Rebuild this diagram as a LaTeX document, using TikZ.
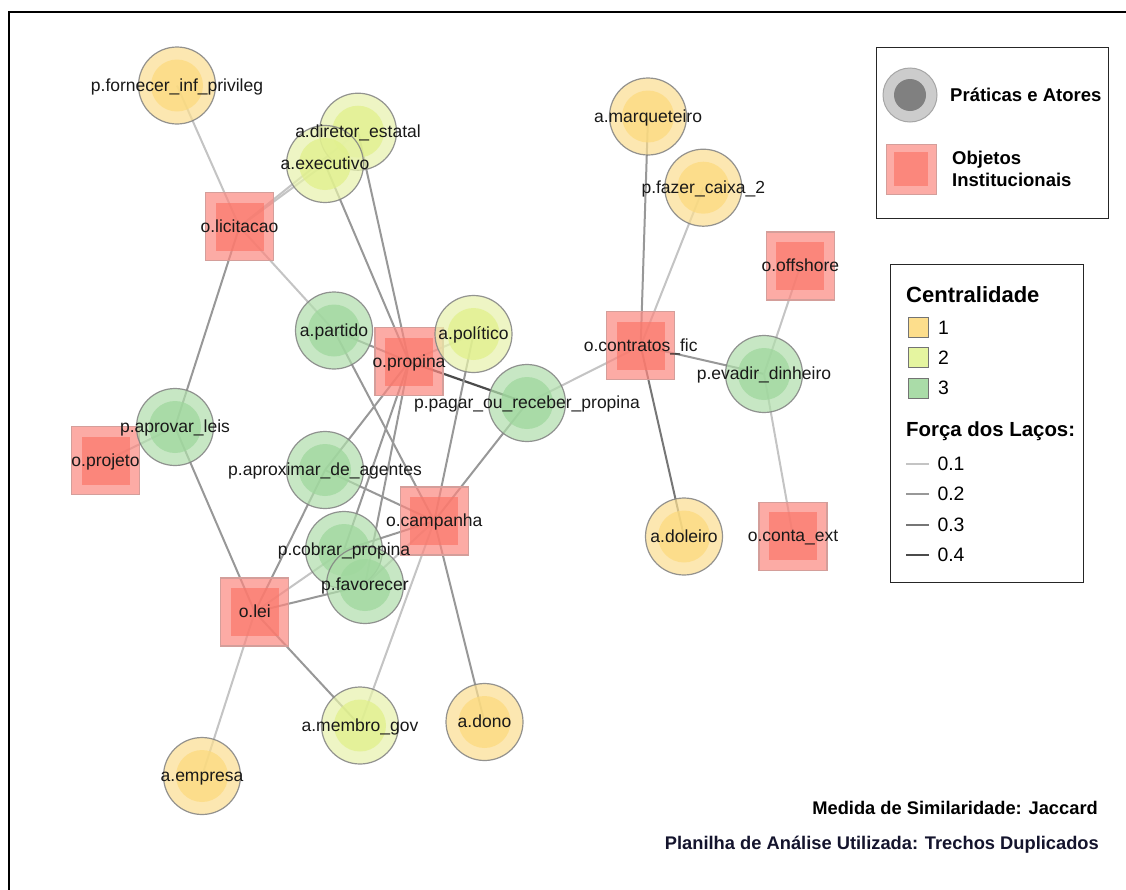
\documentclass[tikz,border=0pt]{standalone}
\usepackage{fontspec}
\setmainfont{Liberation Sans}
\pgfdeclarelayer{edges}
\pgfdeclarelayer{labels}
\pgfsetlayers{edges,main,labels}

% node palettes: ring (R) and core (C), drawn at 70% opacity
\definecolor{YR}{RGB}{251,222,145}\definecolor{YC}{RGB}{252,218,124}
\definecolor{LR}{RGB}{231,242,171}\definecolor{LC}{RGB}{224,240,136}
\definecolor{GR}{RGB}{176,222,171}\definecolor{GC}{RGB}{157,215,156}
\definecolor{SR}{RGB}{251,136,128}\definecolor{SC}{RGB}{251,119,106}
% opaque legend colours
\definecolor{Y1}{RGB}{253,222,140}
\definecolor{L2}{RGB}{229,245,160}
\definecolor{G3}{RGB}{170,220,168}
\definecolor{sqline}{RGB}{212,158,154}
\definecolor{ringline}{RGB}{130,130,130}
\definecolor{e1}{RGB}{196,196,196}
\definecolor{e2}{RGB}{152,152,152}
\definecolor{e3}{RGB}{118,118,118}
\definecolor{e4}{RGB}{75,75,75}

\newcommand\actor[5]{%
  \node[ring, fill=#4R] (#1) at (#2,#3) {};
  \node[core, fill=#4C] (#1-c) at (#1) {};
  \begin{pgfonlayer}{labels}\node[lbl] (#1-t) at (#1) {#5};\end{pgfonlayer}}
\newcommand\objeto[4]{%
  \node[sqr] (#1) at (#2,#3) {};
  \node[sqc] (#1-c) at (#1) {};
  \begin{pgfonlayer}{labels}\node[lbl] (#1-t) at (#1) {#4};\end{pgfonlayer}}
\newcommand\tie[3]{\draw[#1] (#2.center) -- (#3.center);}

\begin{document}
\begin{tikzpicture}[x=1pt,y=-1pt,
  ring/.style={circle, minimum size=77pt, inner sep=0pt, draw=ringline, line width=1.2pt, fill opacity=0.7, draw opacity=0.85},
  core/.style={circle, minimum size=52pt, inner sep=0pt, fill opacity=0.7},
  sqr/.style={rectangle, minimum size=68pt, inner sep=0pt, draw=sqline, line width=1.2pt, fill=SR, fill opacity=0.7},
  sqc/.style={rectangle, minimum size=48pt, inner sep=0pt, fill=SC, fill opacity=0.7},
  lbl/.style={inner sep=0pt, yshift=-3pt, text height=0.75em, text depth=0.22em, text=black!90, font=\fontsize{17.5}{20}\selectfont},
  w1/.style={draw=e1, line width=2pt},
  w2/.style={draw=e2, line width=2pt},
  w3/.style={draw=e3, line width=2pt},
  w4/.style={draw=e4, line width=2.2pt},
  legtxt/.style={anchor=west, inner sep=0pt, font=\fontsize{19.4}{22}\selectfont},
  legbold/.style={anchor=west, inner sep=0pt, font=\bfseries\fontsize{18.5}{22}\selectfont, align=left},
  legbox/.style={draw=black!85, line width=1.4pt},
  swatch/.style={rectangle, minimum size=20.5pt, inner sep=0pt, draw=black!55, line width=1pt}
]
\useasboundingbox (0,0) rectangle (1126,889);
\begin{pgfonlayer}{edges}
  \fill[white] (0,0) rectangle (1126,889);
\end{pgfonlayer}

% outer frame
\draw[line width=1.6pt] (1140,12) -- (9,12) -- (9,900);

% objects
\objeto{licitacao}{239.5}{226.7}{o.licitacao}
\objeto{propina}{409}{361.7}{o.propina}
\objeto{campanha}{434.3}{521}{o.campanha}
\objeto{contratos}{640.7}{345.8}{o.contratos\_fic}
\objeto{offshore}{800.3}{266}{o.offshore}
\objeto{contaext}{793}{536.3}{o.conta\_ext}
\objeto{projeto}{105.5}{460.8}{o.projeto}
\objeto{lei}{254.8}{612}{o.lei}

% practices and actors
\actor{fornecer}{177}{85.5}{Y}{p.fornecer\_inf\_privileg}
\actor{diretor}{358}{131.7}{L}{a.diretor\_estatal}
\actor{executivo}{325}{164}{L}{a.executivo}
\actor{partido}{334}{330.5}{G}{a.partido}
\actor{politico}{473.5}{334}{L}{a.político}
\actor{pagar}{527}{403}{G}{p.pagar\_ou\_receber\_propina}
\actor{aproximar}{325}{470}{G}{p.aproximar\_de\_agentes}
\actor{cobrar}{344}{550}{G}{p.cobrar\_propina}
\actor{favorecer}{365}{585}{G}{p.favorecer}
\actor{aprovar}{175}{427}{G}{p.aprovar\_leis}
\actor{membro}{360}{725.5}{L}{a.membro\_gov}
\actor{dono}{484.5}{722}{Y}{a.dono}
\actor{empresa}{202}{776}{Y}{a.empresa}
\actor{marqueteiro}{648}{116.5}{Y}{a.marqueteiro}
\actor{caixa}{703.3}{187.7}{Y}{p.fazer\_caixa\_2}
\actor{evadir}{764}{374}{G}{p.evadir\_dinheiro}
\actor{doleiro}{684}{536.5}{Y}{a.doleiro}

% ties
\begin{pgfonlayer}{edges}
\tie{w1}{fornecer}{licitacao}
\tie{w1}{licitacao}{executivo}
\tie{w1}{licitacao}{diretor}
\tie{w1}{licitacao}{partido}
\tie{w2}{licitacao}{aprovar}
\tie{w2}{executivo}{propina}
\tie{w2}{diretor}{propina}
\tie{w2}{partido}{propina}
\tie{w2}{partido}{campanha}
\tie{w1}{propina}{politico}
\tie{w4}{propina}{pagar}
\tie{w2}{politico}{campanha}
\tie{w2}{pagar}{campanha}
\tie{w1}{pagar}{contratos}
\tie{w2}{propina}{aproximar}
\tie{w2}{aproximar}{lei}
\tie{w2}{aproximar}{campanha}
\tie{w2}{propina}{cobrar}
\tie{w2}{propina}{favorecer}
\tie{w2}{cobrar}{campanha}
\tie{w1}{favorecer}{campanha}
\tie{w1}{lei}{cobrar}
\tie{w2}{lei}{favorecer}
\tie{w2}{lei}{aprovar}
\tie{w1}{aprovar}{projeto}
\tie{w2}{lei}{membro}
\tie{w1}{lei}{empresa}
\tie{w1}{campanha}{membro}
\tie{w2}{campanha}{dono}
\tie{w2}{contratos}{marqueteiro}
\tie{w1}{contratos}{caixa}
\tie{w2}{contratos}{evadir}
\tie{w3}{contratos}{doleiro}
\tie{w1}{evadir}{offshore}
\tie{w1}{evadir}{contaext}
\end{pgfonlayer}

% legend: node types
\node[legbox, minimum width=232pt, minimum height=171pt, anchor=north west] (legA) at (876,47) {};
\node[circle, minimum size=54pt, inner sep=0pt, fill=black!20, draw=black!35, line width=1pt] (legring) at (910,95) {};
\node[circle, minimum size=32pt, inner sep=0pt, fill=black!50] (legcore) at (legring) {};
\node[legbold] (legringt) at (950,95) {Práticas e Atores};
\node[rectangle, minimum size=50pt, inner sep=0pt, fill={rgb,255:red,252;green,172;blue,166}, draw=sqline, line width=1pt] (legsq) at (911,169) {};
\node[rectangle, minimum size=34pt, inner sep=0pt, fill={rgb,255:red,251;green,135;blue,124}] (legsqc) at (legsq) {};
\node[legbold, font=\bfseries\fontsize{18.5}{22}\selectfont] (legsqt) at (952,169) {Objetos\\Institucionais};

% legend: centrality and tie strength
\node[legbox, minimum width=193pt, minimum height=318pt, anchor=north west] (legB) at (890,264) {};
\node[legbold, font=\bfseries\fontsize{22}{24}\selectfont] (centt) at (906,295) {Centralidade};
\node[swatch, fill=Y1] (c1) at (918.7,327.7) {};
\node[swatch, fill=L2] (c2) at (918.7,357.7) {};
\node[swatch, fill=G3] (c3) at (918.7,388.3) {};
\node[legtxt] (c1t) at (938,327.7) {1};
\node[legtxt] (c2t) at (938,357.7) {2};
\node[legtxt] (c3t) at (938,388.3) {3};
\node[legbold, font=\bfseries\fontsize{20.4}{24}\selectfont] (forcat) at (906,431.7) {Força dos Laços:};
\coordinate (l1a) at (906,464); \coordinate (l1b) at (929.3,464);
\coordinate (l2a) at (906,494.3); \coordinate (l2b) at (929.3,494.3);
\coordinate (l3a) at (906,525); \coordinate (l3b) at (929.3,525);
\coordinate (l4a) at (906,555); \coordinate (l4b) at (929.3,555);
\draw[w1] (l1a) -- (l1b);
\draw[w2] (l2a) -- (l2b);
\draw[w3] (l3a) -- (l3b);
\draw[w4] (l4a) -- (l4b);
\node[legtxt] (l1t) at (937.3,464) {0.1};
\node[legtxt] (l2t) at (937.3,494.3) {0.2};
\node[legtxt] (l3t) at (937.3,525) {0.3};
\node[legtxt] (l4t) at (937.3,555) {0.4};

% footnotes
\node[anchor=east, inner sep=0pt, font=\bfseries\fontsize{18.3}{22}\selectfont] (medida) at (1098,808) {Medida de Similaridade: Jaccard};
\node[anchor=east, inner sep=0pt, font=\bfseries\fontsize{18.3}{22}\selectfont, text={rgb,255:red,20;green,20;blue,45}] (planilha) at (1099,845) {Planilha de Análise Utilizada: Trechos Duplicados};
\end{tikzpicture}
\end{document}
